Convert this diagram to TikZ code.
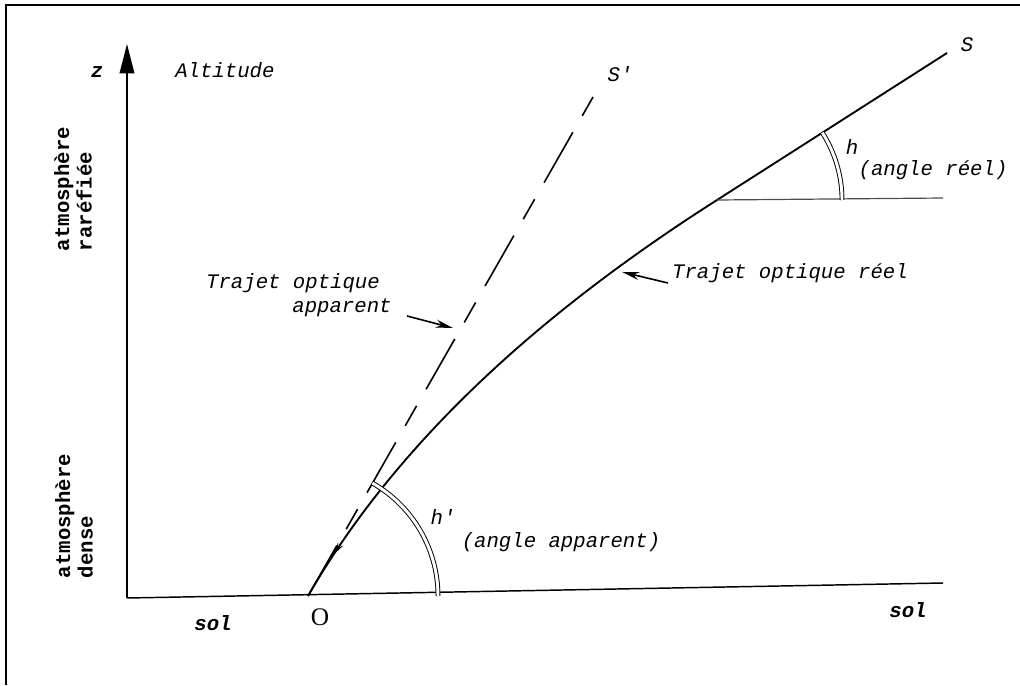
\documentclass[tikz,border=0pt]{standalone}
\usepackage{fontspec}
\setmonofont{Liberation Mono}
\newfontfamily\serifO{Liberation Serif}
\usetikzlibrary{arrows.meta,decorations.markings}
\begin{document}
\begin{tikzpicture}[x=0.75pt,y=-0.75pt,
  lbl/.style={font=\ttfamily\itshape\fontsize{15.5}{18}\selectfont, inner sep=0pt},
  blbl/.style={font=\ttfamily\bfseries\fontsize{15.5}{17}\selectfont, inner sep=0pt},
  bilbl/.style={font=\ttfamily\bfseries\itshape\fontsize{15.5}{18}\selectfont, inner sep=0pt},
  frameline/.style={line width=1.5pt},
  axisline/.style={line width=1.1pt},
  rayline/.style={line width=1.4pt},
  apparentline/.style={line width=1.2pt, dash pattern=on 43.5pt off 14.25pt on 17.25pt off 14.25pt},
  thinline/.style={line width=0.9pt, gray!60!black},
  anglearc/.style={double, double distance=2.2pt, line width=0.7pt},
  ptr/.style={line width=1.2pt, -{Stealth[length=13pt,width=6pt]}}
]
\useasboundingbox (0,0) rectangle (1020,685);
% frame
\draw[frameline] (6,685) -- (6,5) -- (1020,5);

% key points
\coordinate (G0) at (127,598);
\coordinate (Zt) at (127,44);
\coordinate (Gend) at (943,583);
\coordinate (O) at (308,596);
\coordinate (Sp) at (593,97);
\coordinate (K) at (717,200);
\coordinate (S) at (947,53);
\coordinate (H) at (943,198);

% axes
\draw[axisline, -{Triangle[length=22pt,width=11pt]}] (G0) -- (Zt);
\draw[axisline] (G0) -- (Gend);

% apparent path (dashed tangent)
\draw[apparentline] (O) -- (Sp);

% real path
\draw[rayline, postaction={decorate},
  decoration={markings, mark=at position 46pt with {\arrow{Stealth[length=10pt,width=4.5pt,reversed]}}}]
  (O) .. controls (403,431) and (557,302) .. (K) -- (S);

% horizontal reference at K
\draw[thinline] (K) -- (H);

% angle arcs
\draw[anglearc] (O) ++(97.5pt,0) arc[start angle=0, end angle=60.3, radius=97.5pt];
\draw[anglearc] (K) ++(93.75pt,0) arc[start angle=0, end angle=32.6, radius=93.75pt];

% labels
\node[bilbl] (zl) at (97,72) {z};
\node[lbl, anchor=west] (alt) at (175,70) {Altitude};
\node[blbl, rotate=90, align=left] (rar) at (73,189) {atmosphère\\raréfiée};
\node[blbl, rotate=90, align=left] (den) at (74,516) {atmosphère\\dense};
\node[bilbl] (sol1) at (213,623) {sol};
\node[bilbl] (sol2) at (908,610) {sol};
\node[font=\serifO\fontsize{19}{20}\selectfont, inner sep=0pt] (Olab) at (320,617) {O};
\node[lbl] (Slab) at (967,45) {S};
\node[lbl] (Splab) at (620,74) {S'};
\node[lbl] (h) at (852,147) {h};
\node[lbl] (hr) at (933,170) {(angle réel)};
\node[lbl] (hp) at (443,517) {h'};
\node[lbl] (hpa) at (561,542) {(angle apparent)};
\node[lbl] (tap1) at (293,283) {Trajet optique};
\node[lbl] (tap2) at (342,308) {apparent};
\node[lbl] (tor) at (790,273) {Trajet optique réel};

% pointers
\coordinate (ta) at (453,328);
\coordinate (ta0) at (407,316);
\draw[ptr] (ta0) -- (ta);
\coordinate (tr) at (622,272);
\coordinate (tr0) at (668,283);
\draw[ptr] (tr0) -- (tr);
\end{tikzpicture}
\end{document}
